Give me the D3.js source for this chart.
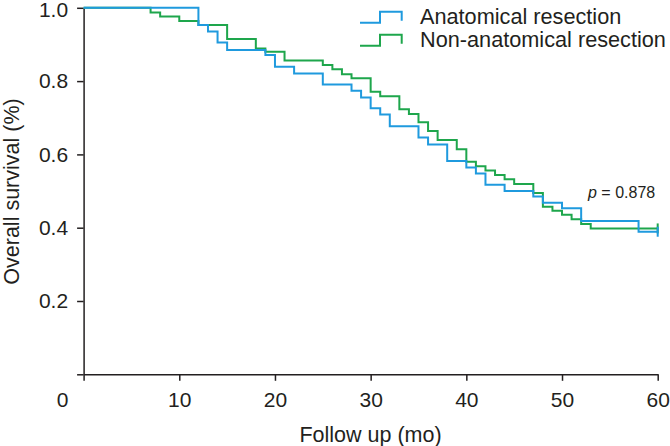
<!DOCTYPE html>
<html>
<head>
<meta charset="utf-8">
<script src="https://cdn.jsdelivr.net/npm/d3@7"></script>
<style>
  body { margin: 0; background: #fff; }
  svg { display: block; font-family: "Liberation Sans", Arial, sans-serif; }
</style>
</head>
<body>
<svg id="chart" width="670" height="446"></svg>
<script>
// survival curves (month of each drop, survival after it)
const anatMonths = [0, 12, 13, 14, 15, 19, 20, 22, 25, 28, 29, 30, 31, 32, 35, 36, 38, 40, 41, 42, 44, 47, 48, 50, 52, 58, 60];
const anatSurv = [1.0, 0.953, 0.935, 0.905, 0.885, 0.871, 0.839, 0.821, 0.791, 0.774, 0.755, 0.726, 0.709, 0.677, 0.646, 0.627, 0.582, 0.564, 0.548, 0.517, 0.500, 0.485, 0.468, 0.453, 0.418, 0.389, 0.389];

const nonAnatMonths = [0, 7, 8, 10, 12, 15, 18, 19, 21, 25, 26, 27, 28, 30, 31, 33, 34, 35, 36, 37, 39, 40, 41, 42, 43, 44, 45, 47, 48, 49, 50, 51, 52, 53, 60];
const nonAnatSurv = [1.0, 0.987, 0.976, 0.964, 0.953, 0.915, 0.889, 0.880, 0.856, 0.844, 0.832, 0.819, 0.808, 0.771, 0.759, 0.723, 0.710, 0.688, 0.664, 0.639, 0.614, 0.580, 0.568, 0.556, 0.544, 0.532, 0.519, 0.495, 0.457, 0.446, 0.435, 0.423, 0.410, 0.398, 0.398];

const xTicks = [0, 10, 20, 30, 40, 50, 60];
const yTicks = [0, 0.2, 0.4, 0.6, 0.8, 1.0];
const seriesNames = ['Anatomical resection', 'Non-anatomical resection'];
const pValue = '0.878';

const ink = '#231f20';
const colors = ['#1f9ade', '#1ea64c'];

const svg = d3.select('#chart');

const x = d3.scaleLinear().domain([0, 60]).range([83.6, 657.7]);
const y = d3.scaleLinear().domain([0, 1]).range([374.3, 7.8]);

// x axis
const xAxis = svg.append('g')
  .attr('transform', `translate(0,${y(0)})`)
  .call(d3.axisBottom(x).tickValues(xTicks).tickSize(6.5).tickSizeOuter(0));
xAxis.selectAll('text')
  .attr('y', 32.4).attr('dy', 0)
  .attr('font-size', 21).attr('fill', ink)
  .text(d => d === 0 ? '' : d);

// y axis
const yAxis = svg.append('g')
  .attr('transform', `translate(${x(0)},0)`)
  .call(d3.axisLeft(y).tickValues(yTicks).tickSize(6.5).tickSizeOuter(0).tickFormat(d3.format('.1f')));
yAxis.selectAll('text')
  .attr('x', -15.5)
  .attr('dy', d => d === 1 ? '0.4em' : '0.32em')
  .attr('font-size', 21).attr('fill', ink)
  .text(d => d === 0 ? '' : d3.format('.1f')(d));

svg.selectAll('.domain, .tick line').attr('stroke', ink).attr('stroke-width', 1.5);

// shared origin label
svg.append('text')
  .attr('x', 62.5).attr('y', 406.7)
  .attr('text-anchor', 'middle')
  .attr('font-size', 21).attr('fill', ink)
  .text('0');

// axis titles
svg.append('text')
  .attr('x', 370.5).attr('y', 441.7)
  .attr('text-anchor', 'middle')
  .attr('font-size', 21.5).attr('fill', ink)
  .text('Follow up (mo)');

svg.append('text')
  .attr('transform', 'translate(19,191.5) rotate(-90)')
  .attr('text-anchor', 'middle')
  .attr('font-size', 21.5).attr('fill', ink)
  .text('Overall survival (%)');

// curves
const line = d3.line()
  .x(d => x(d[0]))
  .y(d => y(d[1]))
  .curve(d3.curveStepAfter);

const series = [
  d3.zip(anatMonths, anatSurv),
  d3.zip(nonAnatMonths, nonAnatSurv)
];

// draw green first so blue sits on top where they overlap
[1, 0].forEach(i => {
  const pts = series[i];
  svg.append('path')
    .attr('d', line(pts))
    .attr('fill', 'none')
    .attr('stroke', colors[i])
    .attr('stroke-width', 2);

  // censor mark at end of follow up
  const last = pts[pts.length - 1];
  svg.append('line')
    .attr('x1', x(last[0])).attr('x2', x(last[0]))
    .attr('y1', y(last[1]) - 5).attr('y2', y(last[1]) + 5)
    .attr('stroke', colors[i])
    .attr('stroke-width', 2);
});

// legend
const legend = svg.append('g').attr('transform', 'translate(360,0)');
seriesNames.forEach((name, i) => {
  const top = 11.7 + i * 23;
  legend.append('path')
    .attr('d', `M0,${top + 11}H20V${top}H41.7V${top + 9}`)
    .attr('fill', 'none')
    .attr('stroke', colors[i])
    .attr('stroke-width', 2);
  legend.append('text')
    .attr('x', 60).attr('y', 24 + i * 23)
    .attr('font-size', 21.7).attr('fill', ink)
    .text(name);
});

// p value
const p = svg.append('text')
  .attr('x', 588).attr('y', 198)
  .attr('font-size', 16).attr('fill', ink);
p.append('tspan').attr('font-style', 'italic').text('p');
p.append('tspan').text(' = ' + pValue);
</script>
</body>
</html>
